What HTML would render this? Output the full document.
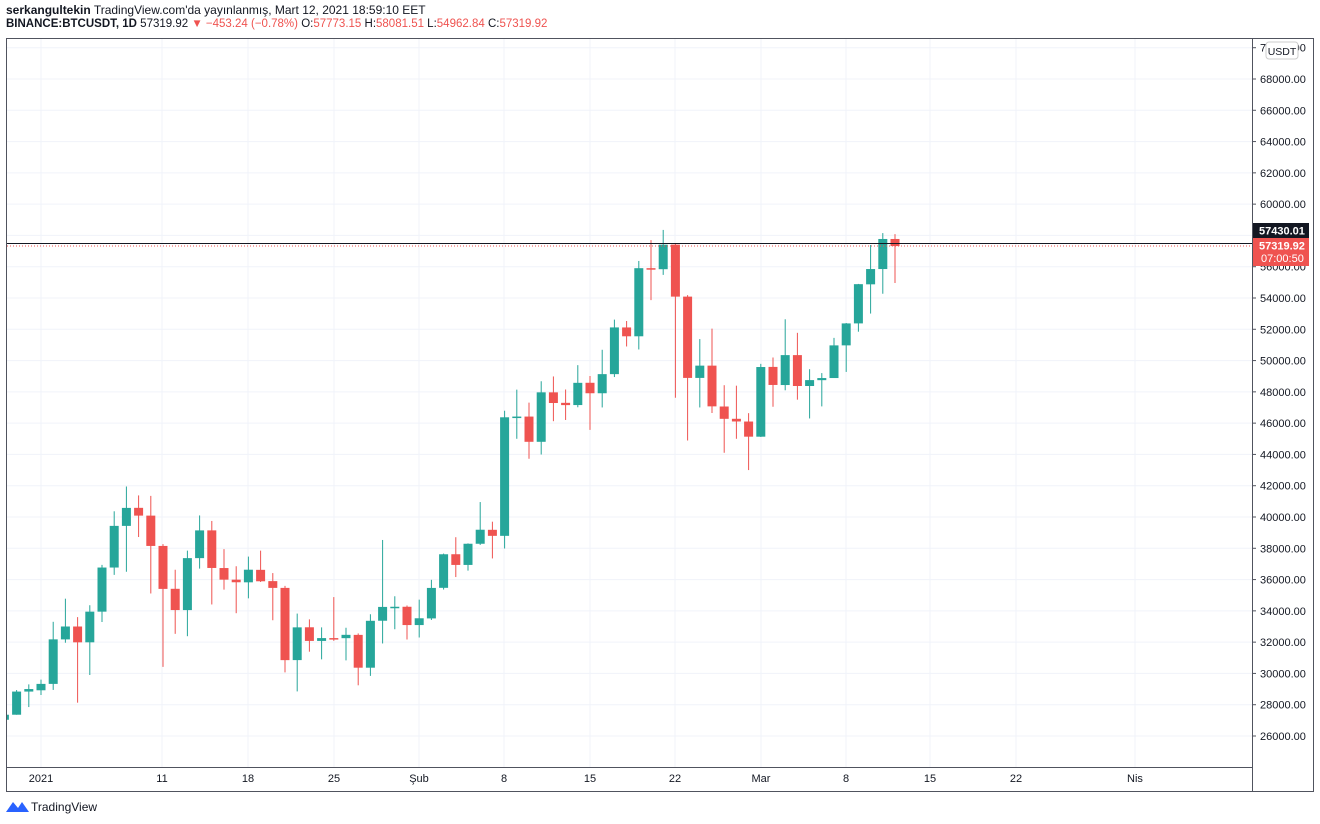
<!DOCTYPE html>
<html><head><meta charset="utf-8">
<style>
html,body{margin:0;padding:0;background:#fff;width:1320px;height:824px;overflow:hidden;font-family:"Liberation Sans",sans-serif;}
.h1{position:absolute;left:6px;top:3px;font-size:12px;color:#131722;}
.h2{position:absolute;left:6px;top:18px;font-size:11.5px;color:#131722;}
.r{color:#ef5350}
svg{position:absolute;left:0;top:0}
</style></head><body>
<div class="h1"><b>serkangultekin</b> TradingView.com'da yayınlanmış, Mart 12, 2021 18:59:10 EET</div>
<div class="h2"><b>BINANCE:BTCUSDT, 1D</b> 57319.92 <span class="r">▼ −453.24 (−0.78%)</span> O:<span class="r">57773.15</span> H:<span class="r">58081.51</span> L:<span class="r">54962.84</span> C:<span class="r">57319.92</span></div>
<svg id="s" width="1320" height="824" xmlns="http://www.w3.org/2000/svg" font-family="Liberation Sans, sans-serif"></svg>
<script>
const s=document.getElementById('s');let h='';
const Y=p=>736-(p-26000)*0.015643;
const X=d=>41+d*12.2;
// grid
for(let p=26000;p<=70000;p+=2000){const y=Y(p);h+=`<line x1="6" x2="1252" y1="${y}" y2="${y}" stroke="#f0f3fa"/>`;}
const dl=[[41,'2021'],[162,'11'],[248,'18'],[334,'25'],[419,'Şub'],[504,'8'],[590,'15'],[675,'22'],[761,'Mar'],[846,'8'],[930,'15'],[1016,'22'],[1135,'Nis']];
dl.forEach(([x,t])=>{h+=`<line x1="${x}" x2="${x}" y1="39" y2="768" stroke="#f0f3fa"/>`;});
const D=[[27037,27370,25987,27360],[27360,28937,27360,28840],[28840,29300,27850,29001],
[28923,29600,28624,29331],[29331,33300,28946,32178],[32176,34778,31962,33000],[33000,33600,28130,31988],[31989,34360,29900,33949],[33949,36939,33288,36769],[36769,40365,36300,39432],[39432,41950,36500,40582],[40586,41380,38720,40088],[40088,41350,35111,38150],[38150,38264,30420,35404],[35410,36628,32531,34051],[34049,37850,32380,37371],[37371,40100,36701,39144],[39145,39747,34408,36742],[36737,37950,35357,35994],[35994,36852,33850,35828],[35824,37469,34800,36631],[36622,37850,35844,35891],[35901,36415,33400,35468],[35468,35600,30071,30850],[30852,33826,28850,32945],[32950,33456,31390,32078],[32078,32944,30900,32259],[32259,34880,32083,32254],[32254,32921,30837,32467],[32464,32557,29241,30366],[30366,33783,29842,33364],[33368,38531,31915,34252],[34246,34933,32825,34262],[34262,34342,32171,33092],
[33092,34717,32296,33526],[33517,35984,33418,35466],[35472,37662,35362,37618],[37620,38708,36161,36936],[36936,38310,36570,38290],[38289,40955,38215,39186],[39181,39700,37351,38795],[38795,46794,37988,46374],[46374,48142,45000,46420],[46420,47310,43727,44807],[44807,48678,43994,47969],[47968,48985,46125,47287],[47298,48150,46202,47153],[47156,49707,47015,48577],[48580,49010,45570,47911],[47911,50690,47003,49133],[49133,52618,48947,52119],[52117,52530,50901,51552],[51552,56368,50710,55906],[55906,57700,53863,55841],[55841,58352,55477,57408],[57412,57508,47622,54087],[54088,54183,44892,48891],[48891,51374,47003,49676],[49676,52041,46650,47073],[47063,48425,44106,46276],[46278,48395,45000,46106],[46103,46638,43000,45135],
[45134,49790,45115,49587],[49595,50200,47047,48441],[48436,52640,48100,50349],[50349,51773,47500,48374],[48374,49448,46300,48751],[48747,49200,47070,48882],[48883,51450,48882,50971],[50972,52402,49274,52375],[52376,54900,51845,54884],[54874,57387,53005,55851],[55851,58150,54272,57773],[57773,58081,54962,57320]];
h+=`<clipPath id="c"><rect x="7" y="39" width="1245" height="729"/></clipPath><g clip-path="url(#c)">`;
D.forEach((c,i)=>{const x=X(i-3);const[o,hi,l,cl]=c;const col=cl>=o?'#26a69a':'#ef5350';
h+=`<line x1="${x}" x2="${x}" y1="${Y(hi)}" y2="${Y(l)}" stroke="${col}" stroke-width="1"/>`;
const t=Y(Math.max(o,cl)),b=Y(Math.min(o,cl));h+=`<rect x="${x-4.5}" y="${t}" width="9" height="${Math.max(1.5,b-t)}" fill="${col}"/>`;});
h+=`</g>`;
// price lines
h+=`<line x1="7" x2="1252" y1="243.5" y2="243.5" stroke="#131722" stroke-width="1"/>`;
h+=`<line x1="7" x2="1252" y1="246" y2="246" stroke="#ef5350" stroke-dasharray="1,2"/>`;
// frame
h+=`<rect x="6.5" y="38.5" width="1307" height="753" fill="none" stroke="#50535e"/>`;
h+=`<line x1="1252.5" x2="1252.5" y1="39" y2="791" stroke="#50535e"/>`;
h+=`<line x1="7" x2="1252" y1="767.5" y2="767.5" stroke="#50535e"/>`;
for(let p=26000;p<=70000;p+=2000){const y=Y(p);h+=`<line x1="1252" x2="1256" y1="${y}" y2="${y}" stroke="#50535e"/><text x="1260" y="${y+4}" font-size="11" fill="#131722">${p}.00</text>`;}
dl.forEach(([x,t])=>{h+=`<text x="${x}" y="782" font-size="11" fill="#131722" text-anchor="middle">${t}</text>`;});
h+=`<rect x="1266" y="42" width="32" height="17" rx="3" fill="#fff" stroke="#ccc"/><text x="1282" y="55" font-size="10.5" text-anchor="middle" fill="#131722">USDT</text>`;
h+=`<rect x="1253" y="223" width="56" height="15" fill="#131722"/><text x="1259" y="234.5" font-size="11" font-weight="bold" fill="#fff">57430.01</text>`;
h+=`<rect x="1253" y="238" width="56" height="28" fill="#ef5350"/><text x="1259" y="249.5" font-size="11" font-weight="bold" fill="#fff">57319.92</text><text x="1261" y="262" font-size="11" fill="#fff">07:00:50</text>`;
h+=`<path d="M6 812 L13 802 L18 808 L22 802 L29 812 Z" fill="#2962ff"/><text x="31" y="811" font-size="12" fill="#131722">TradingView</text>`;
s.innerHTML=h;
</script>
</body></html>
